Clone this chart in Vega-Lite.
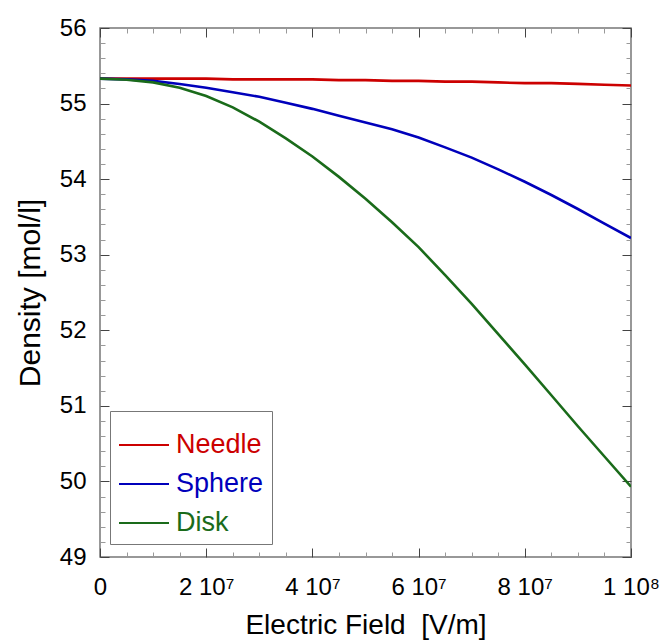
{
  "$schema": "https://vega.github.io/schema/vega-lite/v6.json",
  "width": 531,
  "height": 529,
  "autosize": {"type": "none"},
  "padding": {"left": 100, "top": 28, "right": 32, "bottom": 84},
  "config": {
    "font": "Liberation Sans",
    "view": {"stroke": "#777777", "strokeWidth": 1.5},
    "axis": {"grid": false, "domain": false, "labelFont": "Liberation Sans", "titleFont": "Liberation Sans", "labelColor": "#000000", "titleColor": "#000000", "titleFontWeight": "normal"}
  },
  "data": {"values": [
    {"E": 0, "rho": 55.33, "shape": "Needle"},
    {"E": 5000000, "rho": 55.33, "shape": "Needle"},
    {"E": 10000000, "rho": 55.33, "shape": "Needle"},
    {"E": 15000000, "rho": 55.33, "shape": "Needle"},
    {"E": 20000000, "rho": 55.33, "shape": "Needle"},
    {"E": 25000000, "rho": 55.32, "shape": "Needle"},
    {"E": 30000000, "rho": 55.32, "shape": "Needle"},
    {"E": 35000000, "rho": 55.32, "shape": "Needle"},
    {"E": 40000000, "rho": 55.32, "shape": "Needle"},
    {"E": 45000000, "rho": 55.31, "shape": "Needle"},
    {"E": 50000000, "rho": 55.31, "shape": "Needle"},
    {"E": 55000000, "rho": 55.30, "shape": "Needle"},
    {"E": 60000000, "rho": 55.30, "shape": "Needle"},
    {"E": 65000000, "rho": 55.29, "shape": "Needle"},
    {"E": 70000000, "rho": 55.29, "shape": "Needle"},
    {"E": 75000000, "rho": 55.28, "shape": "Needle"},
    {"E": 80000000, "rho": 55.27, "shape": "Needle"},
    {"E": 85000000, "rho": 55.27, "shape": "Needle"},
    {"E": 90000000, "rho": 55.26, "shape": "Needle"},
    {"E": 95000000, "rho": 55.25, "shape": "Needle"},
    {"E": 100000000, "rho": 55.24, "shape": "Needle"},
    {"E": 0, "rho": 55.33, "shape": "Sphere"},
    {"E": 5000000, "rho": 55.32, "shape": "Sphere"},
    {"E": 10000000, "rho": 55.30, "shape": "Sphere"},
    {"E": 15000000, "rho": 55.26, "shape": "Sphere"},
    {"E": 20000000, "rho": 55.21, "shape": "Sphere"},
    {"E": 25000000, "rho": 55.15, "shape": "Sphere"},
    {"E": 30000000, "rho": 55.09, "shape": "Sphere"},
    {"E": 35000000, "rho": 55.01, "shape": "Sphere"},
    {"E": 40000000, "rho": 54.93, "shape": "Sphere"},
    {"E": 45000000, "rho": 54.84, "shape": "Sphere"},
    {"E": 50000000, "rho": 54.75, "shape": "Sphere"},
    {"E": 55000000, "rho": 54.66, "shape": "Sphere"},
    {"E": 60000000, "rho": 54.55, "shape": "Sphere"},
    {"E": 65000000, "rho": 54.42, "shape": "Sphere"},
    {"E": 70000000, "rho": 54.285, "shape": "Sphere"},
    {"E": 75000000, "rho": 54.13, "shape": "Sphere"},
    {"E": 80000000, "rho": 53.965, "shape": "Sphere"},
    {"E": 85000000, "rho": 53.79, "shape": "Sphere"},
    {"E": 90000000, "rho": 53.605, "shape": "Sphere"},
    {"E": 95000000, "rho": 53.41, "shape": "Sphere"},
    {"E": 100000000, "rho": 53.22, "shape": "Sphere"},
    {"E": 0, "rho": 55.33, "shape": "Disk"},
    {"E": 5000000, "rho": 55.315, "shape": "Disk"},
    {"E": 10000000, "rho": 55.28, "shape": "Disk"},
    {"E": 15000000, "rho": 55.21, "shape": "Disk"},
    {"E": 20000000, "rho": 55.10, "shape": "Disk"},
    {"E": 25000000, "rho": 54.95, "shape": "Disk"},
    {"E": 30000000, "rho": 54.76, "shape": "Disk"},
    {"E": 35000000, "rho": 54.54, "shape": "Disk"},
    {"E": 40000000, "rho": 54.30, "shape": "Disk"},
    {"E": 45000000, "rho": 54.03, "shape": "Disk"},
    {"E": 50000000, "rho": 53.74, "shape": "Disk"},
    {"E": 55000000, "rho": 53.43, "shape": "Disk"},
    {"E": 60000000, "rho": 53.10, "shape": "Disk"},
    {"E": 65000000, "rho": 52.73, "shape": "Disk"},
    {"E": 70000000, "rho": 52.35, "shape": "Disk"},
    {"E": 75000000, "rho": 51.95, "shape": "Disk"},
    {"E": 80000000, "rho": 51.55, "shape": "Disk"},
    {"E": 85000000, "rho": 51.14, "shape": "Disk"},
    {"E": 90000000, "rho": 50.73, "shape": "Disk"},
    {"E": 95000000, "rho": 50.33, "shape": "Disk"},
    {"E": 100000000, "rho": 49.93, "shape": "Disk"}
  ]},
  "resolve": {"axis": {"x": "independent", "y": "independent"}},
  "layer": [
    {
      "mark": {"type": "line", "strokeWidth": 2.6, "clip": true},
      "encoding": {
        "x": {"field": "E", "type": "quantitative", "scale": {"domain": [0, 100000000], "nice": false},
          "axis": {"orient": "bottom", "values": [0, 20000000, 40000000, 60000000, 80000000, 100000000], "ticks": false, "labelPadding": 18, "labelFontSize": 24,
            "labelExpr": "datum.value == 0 ? '0' : (datum.value >= 100000000 ? '1 10⁸' : format(datum.value / 10000000, 'd') + ' 10⁷')",
            "labelFlush": false, "labelOverlap": false,
            "title": "Electric Field\u00a0\u00a0[V/m]", "titleFontSize": 28, "titlePadding": 12}},
        "y": {"field": "rho", "type": "quantitative", "scale": {"domain": [49, 56], "nice": false, "zero": false},
          "axis": {"orient": "left", "values": [49, 50, 51, 52, 53, 54, 55, 56], "ticks": false, "labelPadding": 14, "labelFontSize": 24, "labelFlush": false, "labelOverlap": false,
            "title": "Density [mol/l]", "titleFontSize": 30, "titlePadding": 14}},
        "color": {"field": "shape", "type": "nominal",
          "scale": {"domain": ["Needle", "Sphere", "Disk"], "range": ["#cc0000", "#0000bb", "#1a6b1a"]},
          "legend": {"title": null, "orient": "none", "legendX": 10, "legendY": 383, "padding": 8,
            "strokeColor": "#777777", "fillColor": "#ffffff", "symbolType": "stroke", "symbolSize": 2500, "symbolStrokeWidth": 2,
            "labelFontSize": 27, "labelFont": "Liberation Sans", "labelOffset": 6, "rowPadding": 0,
            "encode": {"labels": {"update": {"fill": {"scale": "color", "field": "value"}}}}}}
      }
    },
    {
      "mark": {"type": "point", "opacity": 0},
      "encoding": {
        "x": {"field": "E", "type": "quantitative", "axis": {"orient": "bottom", "values": [0, 20000000, 40000000, 60000000, 80000000, 100000000], "labels": false, "title": null, "tickSize": -9, "tickColor": "#444444", "tickWidth": 1}},
        "y": {"field": "rho", "type": "quantitative", "axis": {"orient": "left", "values": [49, 50, 51, 52, 53, 54, 55, 56], "labels": false, "title": null, "tickSize": -9, "tickColor": "#444444", "tickWidth": 1}}
      }
    },
    {
      "mark": {"type": "point", "opacity": 0},
      "encoding": {
        "x": {"field": "E", "type": "quantitative", "axis": {"orient": "bottom", "values": [5000000, 10000000, 15000000, 25000000, 30000000, 35000000, 45000000, 50000000, 55000000, 65000000, 70000000, 75000000, 85000000, 90000000, 95000000], "labels": false, "title": null, "tickSize": -5, "tickColor": "#999999", "tickWidth": 1}},
        "y": {"field": "rho", "type": "quantitative", "axis": {"orient": "left", "values": [49.2, 49.4, 49.6, 49.8, 50.2, 50.4, 50.6, 50.8, 51.2, 51.4, 51.6, 51.8, 52.2, 52.4, 52.6, 52.8, 53.2, 53.4, 53.6, 53.8, 54.2, 54.4, 54.6, 54.8, 55.2, 55.4, 55.6, 55.8], "labels": false, "title": null, "tickSize": -5, "tickColor": "#999999", "tickWidth": 1}}
      }
    },
    {
      "mark": {"type": "point", "opacity": 0},
      "encoding": {
        "x": {"field": "E", "type": "quantitative", "axis": {"orient": "top", "values": [0, 20000000, 40000000, 60000000, 80000000, 100000000], "labels": false, "title": null, "tickSize": -9, "tickColor": "#444444", "tickWidth": 1}},
        "y": {"field": "rho", "type": "quantitative", "axis": {"orient": "right", "values": [49, 50, 51, 52, 53, 54, 55, 56], "labels": false, "title": null, "tickSize": -9, "tickColor": "#444444", "tickWidth": 1}}
      }
    },
    {
      "mark": {"type": "point", "opacity": 0},
      "encoding": {
        "x": {"field": "E", "type": "quantitative", "axis": {"orient": "top", "values": [5000000, 10000000, 15000000, 25000000, 30000000, 35000000, 45000000, 50000000, 55000000, 65000000, 70000000, 75000000, 85000000, 90000000, 95000000], "labels": false, "title": null, "tickSize": -5, "tickColor": "#999999", "tickWidth": 1}},
        "y": {"field": "rho", "type": "quantitative", "axis": {"orient": "right", "values": [49.2, 49.4, 49.6, 49.8, 50.2, 50.4, 50.6, 50.8, 51.2, 51.4, 51.6, 51.8, 52.2, 52.4, 52.6, 52.8, 53.2, 53.4, 53.6, 53.8, 54.2, 54.4, 54.6, 54.8, 55.2, 55.4, 55.6, 55.8], "labels": false, "title": null, "tickSize": -5, "tickColor": "#999999", "tickWidth": 1}}
      }
    }
  ]
}
